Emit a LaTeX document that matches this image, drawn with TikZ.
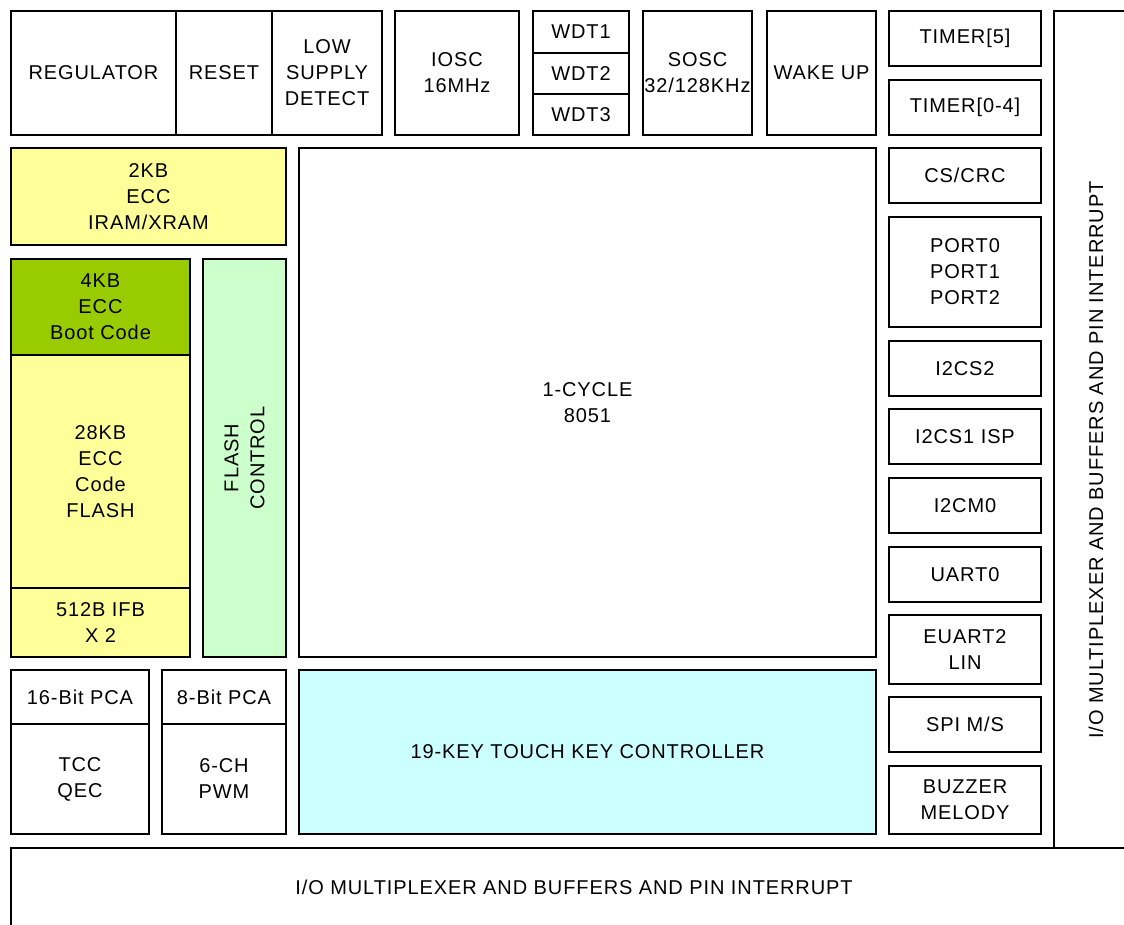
\documentclass[tikz,border=0pt]{standalone}
\usepackage{fontspec}
\setmainfont{Liberation Sans}[LetterSpace=4.5]
\definecolor{memyellow}{HTML}{FFFF99}
\definecolor{bootgreen}{HTML}{99CC00}
\definecolor{ctlgreen}{HTML}{CCFFCC}
\definecolor{touchcyan}{HTML}{CCFFFF}
\tikzset{
  blk/.style={draw, line width=1.2pt, fill=white, inner sep=0pt, align=center,
    font=\fontsize{20}{26}\selectfont},
  lbl/.style={inner sep=0pt, align=center, font=\fontsize{20}{26}\selectfont}
}
\begin{document}
\begin{tikzpicture}[x=1pt, y=-1pt]
    \clip (0,0) rectangle (1124,924);
    \fill[white] (0,0) rectangle (1124,924);

    % Rangee du haut
    \node[blk, minimum width=165, minimum height=124] (reg) at (93.5,73) {REGULATOR};
    \node[blk, minimum width=96, minimum height=124] (rst) at (224,73) {RESET};
    \node[blk, minimum width=110, minimum height=124] (lvd) at (327,73) {LOW\\SUPPLY\\DETECT};
    \node[blk, minimum width=124, minimum height=124] (iosc) at (457,73) {IOSC\\16MHz};
    \node[blk, minimum width=96, minimum height=42] (wdt1) at (581,32) {WDT1};
    \node[blk, minimum width=96, minimum height=41] (wdt2) at (581,73.5) {WDT2};
    \node[blk, minimum width=96, minimum height=41] (wdt3) at (581,114.5) {WDT3};
    \node[blk, minimum width=109, minimum height=124] (sosc) at (697.5,73) {SOSC\\32/128KHz};
    \node[blk, minimum width=109, minimum height=124] (wake) at (821.5,73) {WAKE UP};

    % Colonne de droite
    \node[blk, minimum width=152, minimum height=55] (tmr5) at (965,38.5) {TIMER[5]};
    \node[blk, minimum width=152, minimum height=55] (tmr04) at (965,107.5) {TIMER[0-4]};
    \node[blk, minimum width=152, minimum height=55] (cscrc) at (965,175.5) {CS/CRC};
    \node[blk, minimum width=152, minimum height=110] (port) at (965,272) {PORT0\\PORT1\\PORT2};
    \node[blk, minimum width=152, minimum height=55] (i2cs2) at (965,368.5) {I2CS2};
    \node[blk, minimum width=152, minimum height=55] (i2cs1) at (965,436.5) {I2CS1 ISP};
    \node[blk, minimum width=152, minimum height=55] (i2cm0) at (965,505.5) {I2CM0};
    \node[blk, minimum width=152, minimum height=55] (uart0) at (965,574.5) {UART0};
    \node[blk, minimum width=152, minimum height=69] (euart2) at (965,649.5) {EUART2\\LIN};
    \node[blk, minimum width=152, minimum height=55] (spi) at (965,724.5) {SPI M/S};
    \node[blk, minimum width=152, minimum height=68] (buzz) at (965,800) {BUZZER\\MELODY};

    % Memoires
    \node[blk, fill=memyellow, minimum width=275, minimum height=97] (sram) at (148.5,196.5) {2KB\\ECC\\IRAM/XRAM};
    \node[blk, fill=bootgreen, minimum width=179, minimum height=96] (boot) at (100.5,307) {4KB\\ECC\\Boot Code};
    \node[blk, fill=memyellow, minimum width=179, minimum height=233] (code) at (100.5,471.5) {28KB\\ECC\\Code\\FLASH};
    \node[blk, fill=memyellow, minimum width=179, minimum height=69] (ifb) at (100.5,622.5) {512B IFB\\X 2};
    \node[blk, fill=ctlgreen, minimum width=83, minimum height=398] (flctl) at (244.5,458) {};
    \node[lbl, rotate=90] (flctltxt) at (flctl.center) {FLASH\\CONTROL};

    % Coeur
    \node[blk, minimum width=577, minimum height=509] (cpu) at (587.5,402.5) {1-CYCLE\\8051};

    % PCA
    \node[blk, minimum width=138, minimum height=54] (pca16) at (80,697) {16-Bit PCA};
    \node[blk, minimum width=138, minimum height=110] (tcc) at (80,779) {TCC\\QEC};
    \node[blk, minimum width=124, minimum height=54] (pca8) at (224,697) {8-Bit PCA};
    \node[blk, minimum width=124, minimum height=110] (pwm) at (224,779) {6-CH\\PWM};
    \node[blk, fill=touchcyan, minimum width=577, minimum height=164] (touch) at (587.5,752) {19-KEY TOUCH KEY CONTROLLER};

    % Multiplexeurs E/S
    \draw[line width=1.2pt] (1054,11) rectangle (1170,848);
    \node[lbl, rotate=90] (iomuxr) at (1096,460) {I/O MULTIPLEXER AND BUFFERS AND PIN INTERRUPT};
    \draw[line width=1.2pt] (11,848) rectangle (1170,990);
    \node[lbl] (iomuxb) at (574,887) {I/O MULTIPLEXER AND BUFFERS AND PIN INTERRUPT};
\end{tikzpicture}
\end{document}
